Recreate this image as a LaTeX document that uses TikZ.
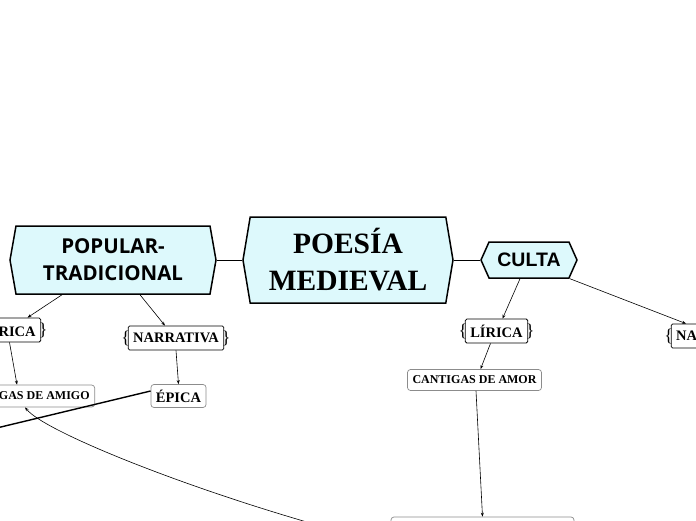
\documentclass[tikz,border=0pt]{standalone}
\usepackage{fontspec}
\setmainfont{Liberation Serif}
\setsansfont{Open Sans}
\newfontfamily\arialfont{Liberation Sans}
\usetikzlibrary{arrows.meta,positioning,shapes.symbols}
\definecolor{hexfill}{HTML}{DDF9FC}
\definecolor{notegray}{HTML}{8C8C8C}
\tikzset{
  topic/.style={signal, signal to=west and east, draw, line width=1.5pt, fill=hexfill, align=center, inner sep=0pt},
  bracebox/.style={draw, line width=0.8pt, rounded corners=1.5pt, fill=white, inner xsep=5pt, minimum height=24pt, font=\bfseries\fontsize{14.5}{16}\selectfont,
    label={[inner sep=0pt, xshift=2.5pt, font=\fontsize{18}{18}\selectfont]west:\{},
    label={[inner sep=0pt, xshift=-2.5pt, font=\fontsize{18}{18}\selectfont]east:\}}},
  notebox/.style={draw=notegray, line width=0.7pt, rounded corners=3pt, fill=white, inner xsep=5pt, minimum height=22pt, font=\bfseries\fontsize{12}{14}\selectfont},
  flow/.style={-{Stealth[length=4pt, width=3pt]}, line width=0.6pt},
  link/.style={line width=0.7pt}
}

\begin{document}
\begin{tikzpicture}[x=1pt, y=-1pt]
\useasboundingbox (0,0) rectangle (696,520);
\clip (0,0) rectangle (696,520);
% main topics
\node[topic, minimum width=210pt, minimum height=86pt, signal pointer angle=161,
  font=\bfseries\fontsize{29.5}{37}\selectfont] (poesia) at (348,260) {POESÍA\\MEDIEVAL};
\node[topic, minimum width=206pt, minimum height=68pt, signal pointer angle=160,
  font=\sffamily\bfseries\fontsize{20.5}{27}\selectfont] (popular) at (113,260) {POPULAR-\\TRADICIONAL};
\node[topic, minimum width=96pt, minimum height=36pt, signal pointer angle=132,
  font=\arialfont\bfseries\fontsize{19.5}{20}\selectfont] (culta) at (529,260) {CULTA};
% popular branch
\node[bracebox] (liricapop) at (9.5,330) {LÍRICA};
\node[bracebox] (narrativapop) at (176,338) {NARRATIVA};
\node[notebox] (amigo) at (25,396) {CANTIGAS DE AMIGO};
\node[notebox, minimum height=23pt, font=\bfseries\fontsize{14.5}{16}\selectfont] (epica) at (178.5,396) {ÉPICA};
% culta branch
\node[bracebox] (liricaculta) at (496.5,331) {LÍRICA};
\node[bracebox] (narrativaculta) at (719,336) {NARRATIVA};
\node[notebox, minimum height=21pt] (amor) at (474.5,380) {CANTIGAS DE AMOR};
\node[notebox, minimum width=183pt] (lower) at (482.5,528) {ÉPICA};
\coordinate (epicaout) at (-20,432);
\coordinate (lowerout) at (335,530);

\draw[link] (poesia.west) -- (popular.east);
\draw[link] (poesia.east) -- (culta.west);
\draw[flow] ([xshift=-51pt]popular.south) -- ([xshift=18pt]liricapop.north);
\draw[flow] ([xshift=27pt]popular.south) -- ([xshift=-11pt]narrativapop.north);
\draw[flow] (liricapop.south) -- ([xshift=-8pt]amigo.north);
\draw[flow] (narrativapop.south) -- (epica.north);
\draw[line width=1.4pt] ([yshift=5pt]epica.west) -- (epicaout);
\draw[flow] (lowerout) .. controls (190,490) and (45,432) .. (amigo.south);
\draw[flow] ([xshift=-9pt]culta.south) -- ([xshift=6pt]liricaculta.north);
\draw[flow] ([xshift=41pt]culta.south) -- ([xshift=-33pt]narrativaculta.north);
\draw[flow] ([xshift=-6pt]liricaculta.south) -- ([xshift=6pt]amor.north);
\draw[flow] ([xshift=1.5pt]amor.south) -- (lower.north);
\end{tikzpicture}
\end{document}
